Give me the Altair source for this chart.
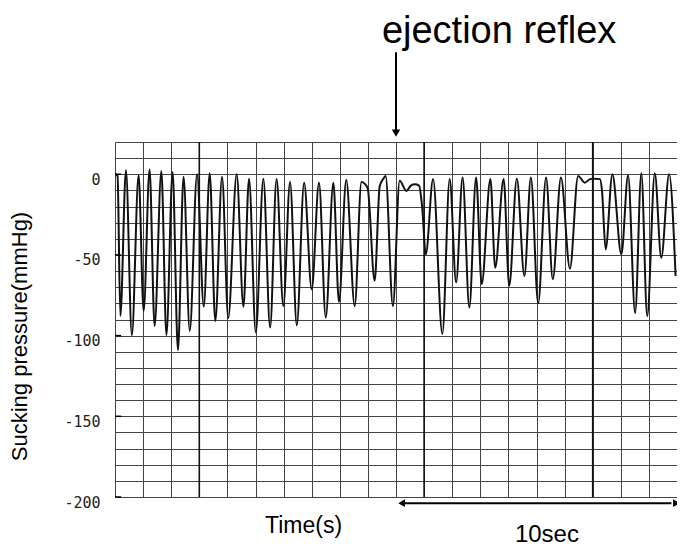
import altair as alt
import pandas as pd

# Sucking pressure trace (time in s, pressure in mmHg)
times = [0.02, 0.09, 0.19, 0.39, 0.60, 0.84, 1.02, 1.23, 1.41, 1.65, 1.83, 2.05, 2.24, 2.44,
         2.66, 2.92, 3.16, 3.37, 3.57, 3.81, 4.03, 4.33, 4.57, 4.77, 5.01, 5.28, 5.52, 5.75,
         5.99, 6.23, 6.47, 6.73, 7.00, 7.26, 7.50, 7.77, 7.97, 8.23, 8.53, 8.77, 8.99, 9.24,
         9.42, 9.54, 9.63, 9.89, 10.13, 10.37, 10.53, 10.67, 10.82, 10.93, 11.06, 11.32, 11.65,
         11.91, 12.14, 12.37, 12.61, 12.85, 13.05, 13.36, 13.53, 13.83, 14.03, 14.30, 14.57,
         14.80, 15.06, 15.34, 15.58, 15.87, 16.19, 16.48, 16.72, 16.90, 17.05, 17.26, 17.33,
         17.46, 17.70, 18.02, 18.26, 18.51, 18.73, 18.94, 19.21, 19.44, 19.72, 19.95]
pressure = [0, -1, -87.8, 2.5, -99.8, -0.6, -84.7, 3, -94, 2, -99.6, 1.4, -109, -1.5,
            -97, 0, -82, 0.6, -91, -1.5, -89, 0, -82, -2.7, -98, -2.7, -95, -3,
            -81.6, -4.8, -93.6, -5.2, -71.3, -5.2, -88.8, -5.2, -79, -3.5, -81.6, -4.8, -8.5, -66,
            -7.2, -3, -1, -81.6, -4, -10.3, -7, -6.2, -7, -20, -49.6, -3, -99,
            -3, -67, -2, -82.6, -2, -68, -3, -58, -3, -69, -2.7, -63,
            -2, -80, -2, -65, -2, -58.5, -1, -5.2, -3, -2.7, -3, -10,
            -46.5, 0, -49.6, -0.6, -86, 0.6, -87.8, 0.6, -51.7, 0, -63]

y_label_values = [0, -50, -100, -150, -200]
x_grid = list(range(0, 21))
y_grid = list(range(-200, 21, 10))
dark_vlines = [3, 11, 17]

annot_text = ["ejection reflex", "10sec"]
annot_t = [13.67, 15.37]
annot_v = [81.3, -228]
annot_size = [38, 24]

eject_t = 10.0
eject_top, eject_bottom, eject_head = 75.6, 27.0, 25.5
span_start, span_end, span_v = 10.3, 19.8, -203.8
head_left_t, head_right_t = 10.2, 19.98

df = pd.DataFrame({"t": times, "p": pressure})

xs = alt.Scale(domain=[0, 20], nice=False, zero=False)
ys = alt.Scale(domain=[-200, 20], nice=False, zero=False)

x_axis = alt.Axis(values=x_grid, grid=True, gridColor="#444", gridWidth=1,
                  labels=False, ticks=False, domain=False,
                  title="Time(s)", titleFont="Liberation Sans", titleFontSize=23,
                  titleFontWeight="normal", titleColor="#000",
                  titleX=188, titleY=35, titleBaseline="alphabetic", titleAlign="center")
y_axis = alt.Axis(values=y_grid, grid=True, gridColor="#444", gridWidth=1,
                  labelExpr="datum.value % 50 == 0 ? '' + datum.value : ''",
                  labelOverlap=False,
                  labelFont="DejaVu Sans Mono", labelFontSize=15, labelColor="#222",
                  labelPadding=15, labelOffset=5, ticks=False, domain=False,
                  title="Sucking pressure(mmHg)", titleFont="Liberation Sans",
                  titleFontSize=22, titleFontWeight="normal", titleColor="#000",
                  titleX=-89, titleY=194, titleAngle=270,
                  titleBaseline="alphabetic", titleAlign="center")


def X(field="t"):
    return alt.X(f"{field}:Q", scale=xs, axis=x_axis)


def Y(field="p"):
    return alt.Y(f"{field}:Q", scale=ys, axis=y_axis)


trace = alt.Chart(df).mark_line(color="#111", strokeWidth=2.0, interpolate="monotone").encode(
    x=X(), y=Y())

dark = alt.Chart(pd.DataFrame({"t": dark_vlines})).mark_rule(color="#111", strokeWidth=1.6).encode(
    x=X())

ticks_df = pd.DataFrame({"t": [0.0] * len(y_label_values), "t2": [0.22] * len(y_label_values),
                         "p": y_label_values})
yticks = alt.Chart(ticks_df).mark_rule(color="#000", strokeWidth=1.5).encode(
    x=X(), x2="t2:Q", y=Y())

vshaft = alt.Chart(pd.DataFrame({"t": [eject_t], "p": [eject_top], "p2": [eject_bottom]})).mark_rule(
    color="#000", strokeWidth=2).encode(x=X(), y=Y(), y2="p2:Q")
vhead = alt.Chart(pd.DataFrame({"t": [eject_t], "p": [eject_head]})).mark_point(
    shape="triangle-down", filled=True, color="#000", size=70, opacity=1).encode(
    x=X(), y=Y())

hshaft = alt.Chart(pd.DataFrame({"t": [span_start], "t2": [span_end], "p": [span_v]})).mark_rule(
    color="#000", strokeWidth=2).encode(x=X(), x2="t2:Q", y=Y())
hheads = alt.Chart(pd.DataFrame({"t": [head_left_t, head_right_t], "p": [span_v, span_v],
                                 "s": ["triangle-left", "triangle-right"]})).mark_point(
    filled=True, color="#000", size=60, opacity=1).encode(
    x=X(), y=Y(), shape=alt.Shape("s:N", scale=None, legend=None))

texts = alt.Chart(pd.DataFrame({"label": annot_text, "t": annot_t, "p": annot_v, "fs": annot_size})).mark_text(
    font="Liberation Sans", color="#000", align="center", baseline="alphabetic").encode(
    x=X(), y=Y(), text="label:N",
    size=alt.Size("fs:Q", scale=None, legend=None))

chart = alt.layer(trace, dark, yticks, vshaft, vhead, hshaft, hheads, texts).properties(
    width=562, height=355,
    autosize=alt.AutoSizeParams(type="none"),
    padding={"left": 107, "top": 134, "right": 0, "bottom": 50},
).configure_view(stroke="#000", strokeWidth=1.5).configure(background="white")

chart.save("out.html", embed_options={"renderer": "svg", "actions": False})
